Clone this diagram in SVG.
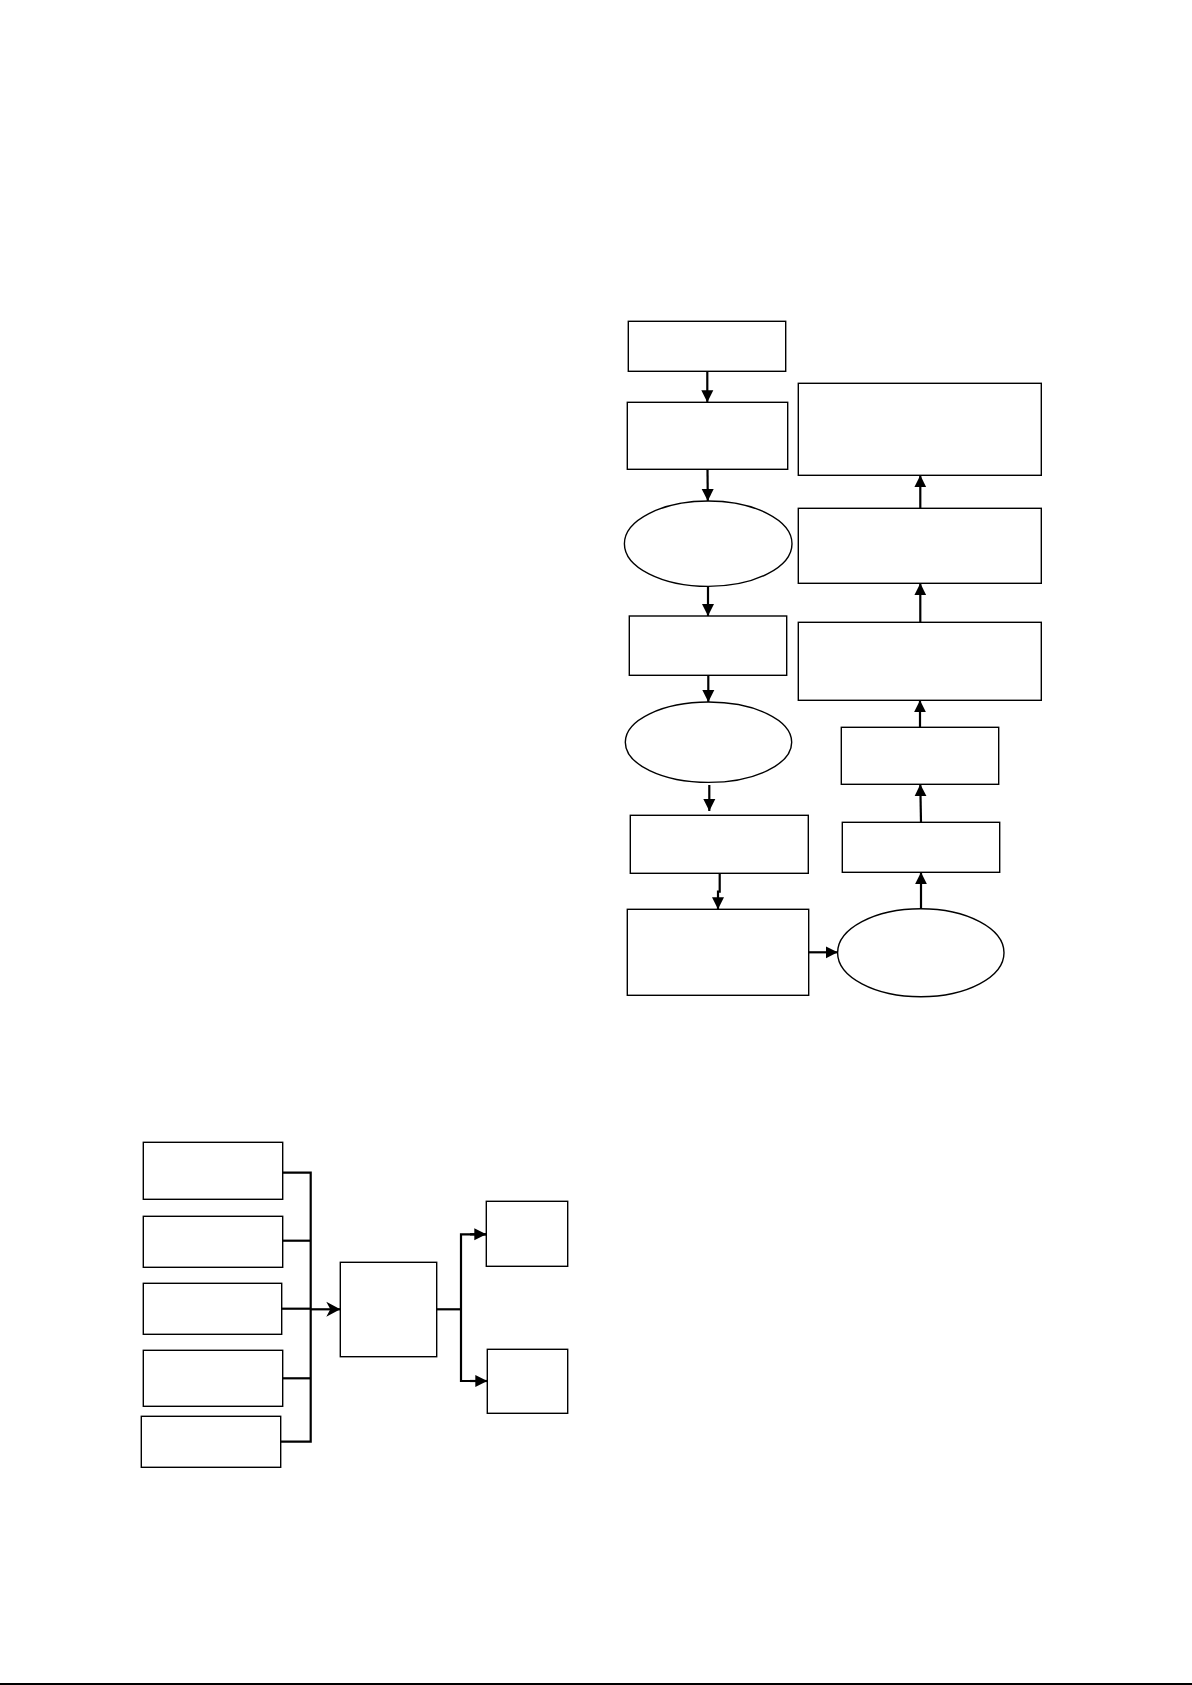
<svg xmlns="http://www.w3.org/2000/svg" width="1192" height="1685" viewBox="0 0 1192 1685">
<style>
.n{fill:#fff;stroke:#000;stroke-width:1.4}
.c{fill:none;stroke:#000;stroke-width:2.2}
.b{fill:none;stroke:#000;stroke-width:2.2}
</style>
<defs>
<marker id="ah" markerUnits="userSpaceOnUse" markerWidth="14" markerHeight="14" refX="12" refY="6.5" orient="auto"><path d="M0,0.5 L12,6.5 L0,12.5 z" fill="#000"/></marker>
<marker id="st" markerUnits="userSpaceOnUse" markerWidth="16" markerHeight="16" refX="14" refY="8" orient="auto"><path d="M0,0.5 L14,8 L0,15.5 L4,8 z" fill="#000"/></marker>
</defs>
<rect x="0" y="0" width="1192" height="1685" fill="#fff"/>
<g id="nodes">
<g id="a1"><rect class="n" x="628.3" y="321.3" width="157.4" height="50"/></g>
<g id="a2"><rect class="n" x="627.3" y="402.3" width="160.4" height="67"/></g>
<g id="a3"><ellipse class="n" cx="708.2" cy="543.7" rx="83.8" ry="42.7"/></g>
<g id="a4"><rect class="n" x="629.3" y="616" width="157.4" height="59.3"/></g>
<g id="a5"><ellipse class="n" cx="708.5" cy="742.2" rx="83.2" ry="40.2"/></g>
<g id="a6"><rect class="n" x="630.3" y="815.3" width="178" height="58"/></g>
<g id="a7"><rect class="n" x="627.3" y="909.3" width="181.4" height="86"/></g>
<g id="a8"><ellipse class="n" cx="920.8" cy="952.7" rx="83.2" ry="44"/></g>
<g id="a9"><rect class="n" x="842.3" y="822.3" width="157.4" height="50"/></g>
<g id="a10"><rect class="n" x="841.3" y="727.3" width="157.4" height="57"/></g>
<g id="a11"><rect class="n" x="798.3" y="622.3" width="243" height="78"/></g>
<g id="a12"><rect class="n" x="798.3" y="508.3" width="243" height="75"/></g>
<g id="a13"><rect class="n" x="798.3" y="383.3" width="243" height="92"/></g>
<g id="l1"><rect class="n" x="143.3" y="1142.3" width="139.4" height="57"/></g>
<g id="l2"><rect class="n" x="143.3" y="1216.3" width="139.4" height="51"/></g>
<g id="l3"><rect class="n" x="143.3" y="1283.3" width="138.4" height="51"/></g>
<g id="l4"><rect class="n" x="143.3" y="1350.3" width="139.4" height="56"/></g>
<g id="l5"><rect class="n" x="141.3" y="1416.3" width="139.4" height="51"/></g>
<g id="m"><rect class="n" x="340.3" y="1262.3" width="96.4" height="94.4"/></g>
<g id="r1"><rect class="n" x="486.3" y="1201.3" width="81.4" height="65"/></g>
<g id="r2"><rect class="n" x="487.3" y="1349.3" width="80.4" height="64"/></g>
</g>
<g id="connectors">
<line class="c" x1="707.3" y1="371.3" x2="707.3" y2="402.3" marker-end="url(#ah)"/>
<line class="c" x1="707.5" y1="469.3" x2="707.8" y2="501" marker-end="url(#ah)"/>
<line class="c" x1="708" y1="586.4" x2="708" y2="616" marker-end="url(#ah)"/>
<line class="c" x1="708.3" y1="675.3" x2="708.3" y2="702" marker-end="url(#ah)"/>
<line class="c" x1="709.3" y1="785" x2="709.3" y2="811" marker-end="url(#ah)"/>
<polyline class="c" points="719.7,873.3 719.7,891.7 718,891.7 718,909.3" marker-end="url(#ah)"/>
<line class="c" x1="808.7" y1="952.3" x2="837.7" y2="952.3" marker-end="url(#ah)"/>
<line class="c" x1="921" y1="908.7" x2="921" y2="872.3" marker-end="url(#ah)"/>
<line class="c" x1="921" y1="822.3" x2="920.3" y2="784.3" marker-end="url(#ah)"/>
<line class="c" x1="920" y1="727.3" x2="920" y2="700.3" marker-end="url(#ah)"/>
<line class="c" x1="920.3" y1="622.3" x2="920.3" y2="583.3" marker-end="url(#ah)"/>
<line class="c" x1="920.3" y1="508.3" x2="920.3" y2="475.3" marker-end="url(#ah)"/>
<polyline class="b" points="282.7,1172.7 310.7,1172.7 310.7,1441.7 280.7,1441.7"/>
<line class="b" x1="282.7" y1="1240.7" x2="310.7" y2="1240.7"/>
<line class="b" x1="281.7" y1="1308.7" x2="310.7" y2="1308.7"/>
<line class="b" x1="282.7" y1="1378.3" x2="310.7" y2="1378.3"/>
<line class="b" x1="310.7" y1="1309.3" x2="340.3" y2="1309.3" marker-end="url(#st)"/>
<line class="b" x1="436.7" y1="1309.3" x2="461" y2="1309.3"/>
<polyline class="c" points="486.3,1234.3 461,1234.3 461,1381 487.3,1381"/>
<line class="c" x1="470" y1="1234.3" x2="486.3" y2="1234.3" marker-end="url(#ah)"/>
<line class="c" x1="470" y1="1381" x2="487.3" y2="1381" marker-end="url(#ah)"/>
</g>
<rect x="0" y="1683" width="1192" height="2" fill="#000"/>
</svg>
